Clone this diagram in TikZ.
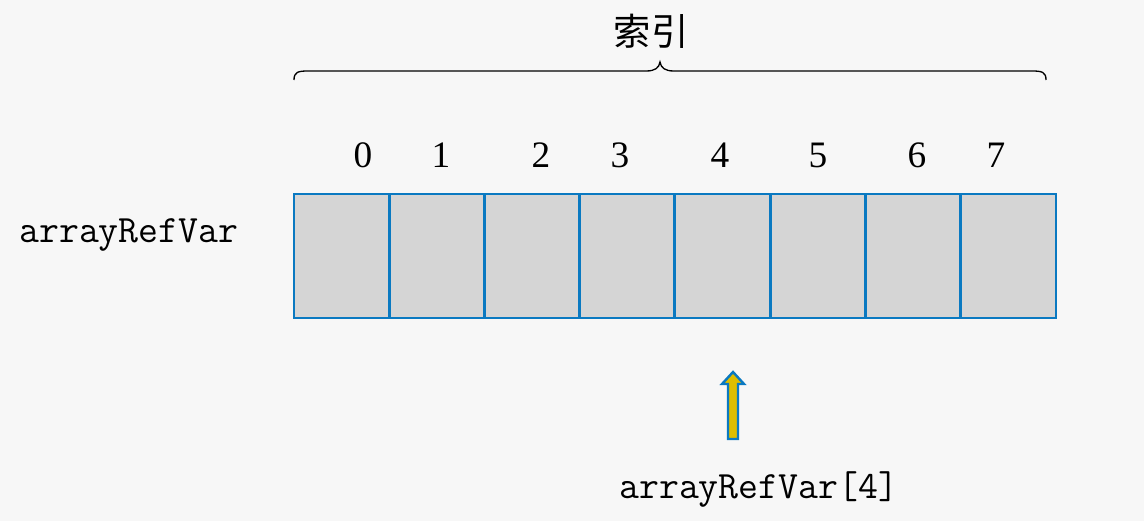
\documentclass[tikz,border=0pt]{standalone}
\usepackage{fontspec}
\setmainfont{Liberation Serif}
\newfontfamily\cjk{Noto Sans CJK SC}
\definecolor{bgc}{HTML}{F7F7F7}
\definecolor{cellfill}{HTML}{D5D5D5}
\definecolor{cellline}{HTML}{0A79C1}
\definecolor{arrfill}{HTML}{DDBE00}
\begin{document}
\begin{tikzpicture}[x=0.75pt,y=-0.75pt,
  cell/.style={draw=cellline,fill=cellfill,line width=2.2pt,minimum width=71.4pt,minimum height=93pt,inner sep=0pt,outer sep=0pt,anchor=north west},
  idx/.style={font=\fontsize{28}{30}\selectfont,inner sep=0pt},
  code/.style={font=\ttfamily\fontsize{29}{31}\selectfont,inner sep=0pt},
  brace/.style={draw=black,line width=1pt}]
\useasboundingbox[fill=bgc] (0,0) rectangle (1144,521);
% cells
\foreach \i in {0,...,7}{
  \node[cell] (c\i) at ({294+\i*95.25},194) {};
}
% indices
\foreach \i/\x in {0/363,1/441,2/541,3/620,4/720,5/818,6/917,7/996}{
  \node[idx] (n\i) at (\x,155) {\i};
}
% brace
\coordinate (bl) at (294,80);
\coordinate (br) at (1046,80);
\coordinate (bt) at (660,62);
\draw[brace] (bl) .. controls (294,72) and (298,71) .. (308,71) -- (646,71)
  .. controls (655,71) and (659,68) .. (bt)
  .. controls (661,68) and (665,71) .. (674,71) -- (1032,71)
  .. controls (1042,71) and (1046,72) .. (br);
\node[font=\cjk\fontsize{28}{30}\selectfont,inner sep=0pt] (title) at (651,31) {索引};
% labels
\node[code,anchor=west] (var) at (19,235) {arrayRefVar};
\node[code,anchor=west] (elem) at (619,489) {arrayRefVar[4]};
% arrow
\draw[draw=cellline,fill=arrfill,line width=1.8pt,line join=miter]
  (733,372) -- (744,384) -- (738,384) -- (738,439) -- (728,439) -- (728,384) -- (722,384) -- cycle;
\end{tikzpicture}
\end{document}
